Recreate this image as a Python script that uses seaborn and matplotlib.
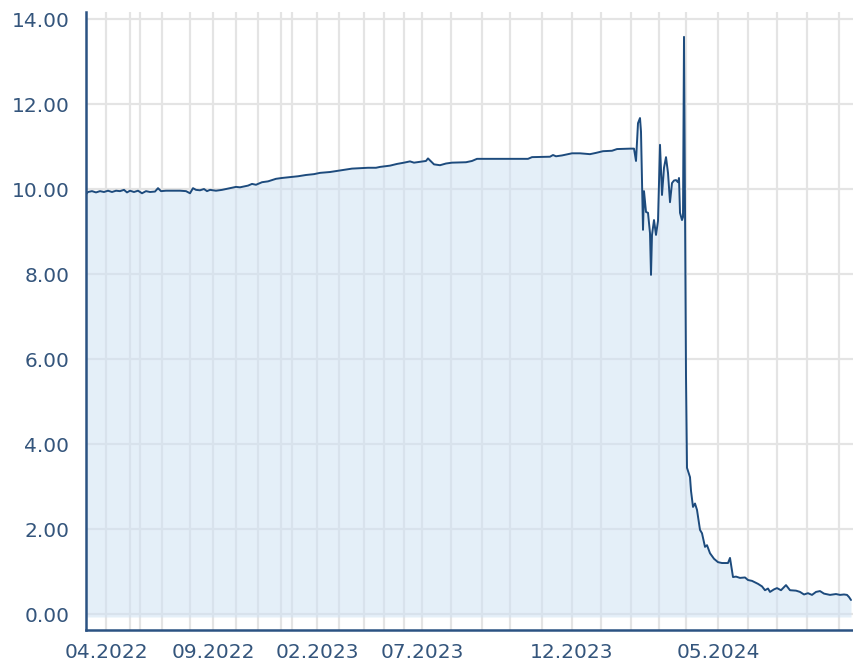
"""Price history chart: long flat run around 10 then a collapse in spring 2024."""

import matplotlib

matplotlib.use("Agg")

import matplotlib.pyplot as plt
import pandas as pd
import seaborn as sns

obs_idx = [
    0, 2, 6, 10, 14, 18, 22, 26, 30, 34, 38, 41, 44, 48, 52, 56, 60, 64, 69, 72,
    75, 80, 86, 94, 100, 104, 107, 110, 114, 118, 121, 124, 130, 136, 144, 150,
    154, 162, 166, 170, 176, 182, 190, 196, 204, 212, 220, 228, 234, 244, 252,
    260, 266, 274, 282, 290, 294, 304, 311, 318, 324, 328, 334, 340, 342, 345,
    348, 354, 360, 366, 380, 386, 391, 404, 424, 442, 446, 464, 467, 470, 476,
    486, 494, 504, 510, 517, 526, 531, 544, 548, 550, 552, 554, 555, 557, 558,
    560, 562, 564, 565, 566, 568, 570, 572, 574, 576, 578, 580, 582, 584, 586,
    588, 590, 592, 593, 594, 596, 597, 598, 600, 601, 604, 605, 607, 609, 611,
    614, 616, 619, 621, 624, 628, 632, 636, 642, 644, 647, 650, 654, 659, 662,
    666, 672, 676, 679, 682, 684, 688, 691, 695, 700, 704, 710, 714, 718, 722,
    726, 730, 734, 738, 744, 750, 754, 758, 761, 763, 765,
]
price = [
    9.88, 9.93, 9.95, 9.92, 9.95, 9.93, 9.96, 9.93, 9.96, 9.95, 9.98, 9.92,
    9.96, 9.93, 9.96, 9.90, 9.95, 9.93, 9.94, 10.02, 9.95, 9.96, 9.96, 9.96,
    9.95, 9.90, 10.02, 9.98, 9.97, 10.00, 9.95, 9.98, 9.96, 9.98, 10.02, 10.05,
    10.04, 10.08, 10.12, 10.10, 10.16, 10.18, 10.24, 10.26, 10.28, 10.30,
    10.33, 10.35, 10.38, 10.40, 10.43, 10.46, 10.48, 10.49, 10.50, 10.50,
    10.52, 10.55, 10.59, 10.62, 10.65, 10.62, 10.64, 10.66, 10.72, 10.65,
    10.58, 10.56, 10.60, 10.62, 10.63, 10.66, 10.71, 10.71, 10.71, 10.71,
    10.75, 10.76, 10.80, 10.77, 10.79, 10.84, 10.84, 10.82, 10.85, 10.89,
    10.90, 10.94, 10.95, 10.95, 10.66, 11.55, 11.67, 11.35, 9.04, 9.95, 9.46,
    9.44, 8.96, 7.98, 8.92, 9.27, 8.92, 9.25, 11.04, 9.86, 10.50, 10.75, 10.38,
    9.69, 10.14, 10.20, 10.21, 10.16, 10.26, 9.44, 9.27, 9.34, 13.58, 5.60,
    3.44, 3.22, 2.90, 2.52, 2.60, 2.45, 1.98, 1.90, 1.58, 1.62, 1.43, 1.30,
    1.22, 1.20, 1.20, 1.32, 0.87, 0.88, 0.85, 0.86, 0.80, 0.78, 0.71, 0.65,
    0.56, 0.60, 0.52, 0.58, 0.61, 0.56, 0.68, 0.56, 0.55, 0.52, 0.46, 0.49,
    0.45, 0.52, 0.54, 0.48, 0.45, 0.47, 0.45, 0.46, 0.45, 0.40, 0.33,
]

# first observation of each month (vertical grid) and the labelled months
month_idx = [
    20, 44, 54, 76, 104, 127, 150, 172, 195, 206, 231, 253, 278, 298, 318,
    336, 365, 396, 424, 456, 486, 515, 545, 573, 600, 632, 662, 691, 721, 753,
]
label_idx = [20, 127, 231, 336, 486, 632]
label_text = ["04.2022", "09.2022", "02.2023", "07.2023", "12.2023", "05.2024"]
y_ticks = [0, 2, 4, 6, 8, 10, 12, 14]

LINE = "#1d4b7d"
AXIS = "#2b5282"
TEXT = "#34557c"
GRID = "#e4e4e4"

sns.set_theme(style="white")
plt.rcParams["font.family"] = ["DejaVu Sans"]

df = pd.DataFrame({"idx": obs_idx, "price": price})

fig = plt.figure(figsize=(8.54, 6.61), dpi=100)
ax = fig.add_axes([86 / 854, 31 / 661, 768 / 854, 618 / 661])

for m in month_idx:
    ax.axvline(m, color=GRID, lw=1.6, zorder=0)
for t in y_ticks:
    ax.axhline(t, color=GRID, lw=1.6, zorder=0)

ax.fill_between(df["idx"], df["price"], -0.07, color="#cfe2f3", alpha=0.55,
                lw=0, zorder=1)
sns.lineplot(data=df, x="idx", y="price", color=LINE, lw=1.4, sort=False,
             ax=ax, zorder=2)

ax.set_xlim(0, 768)
ax.set_ylim(-0.376, 14.165)
ax.set_xticks(label_idx)
ax.set_xticklabels(label_text)
ax.set_yticks(y_ticks)
ax.set_yticklabels([f"{t:.2f}" for t in y_ticks])
ax.tick_params(axis="both", length=0, labelsize=14.5, labelcolor=TEXT)
ax.tick_params(axis="x", pad=9)
ax.tick_params(axis="y", pad=12)
ax.set_xlabel("")
ax.set_ylabel("")

for side in ["top", "right"]:
    ax.spines[side].set_visible(False)
for side in ["left", "bottom"]:
    ax.spines[side].set_color(AXIS)
    ax.spines[side].set_linewidth(1.8)

fig.savefig("out.png", dpi=100)
